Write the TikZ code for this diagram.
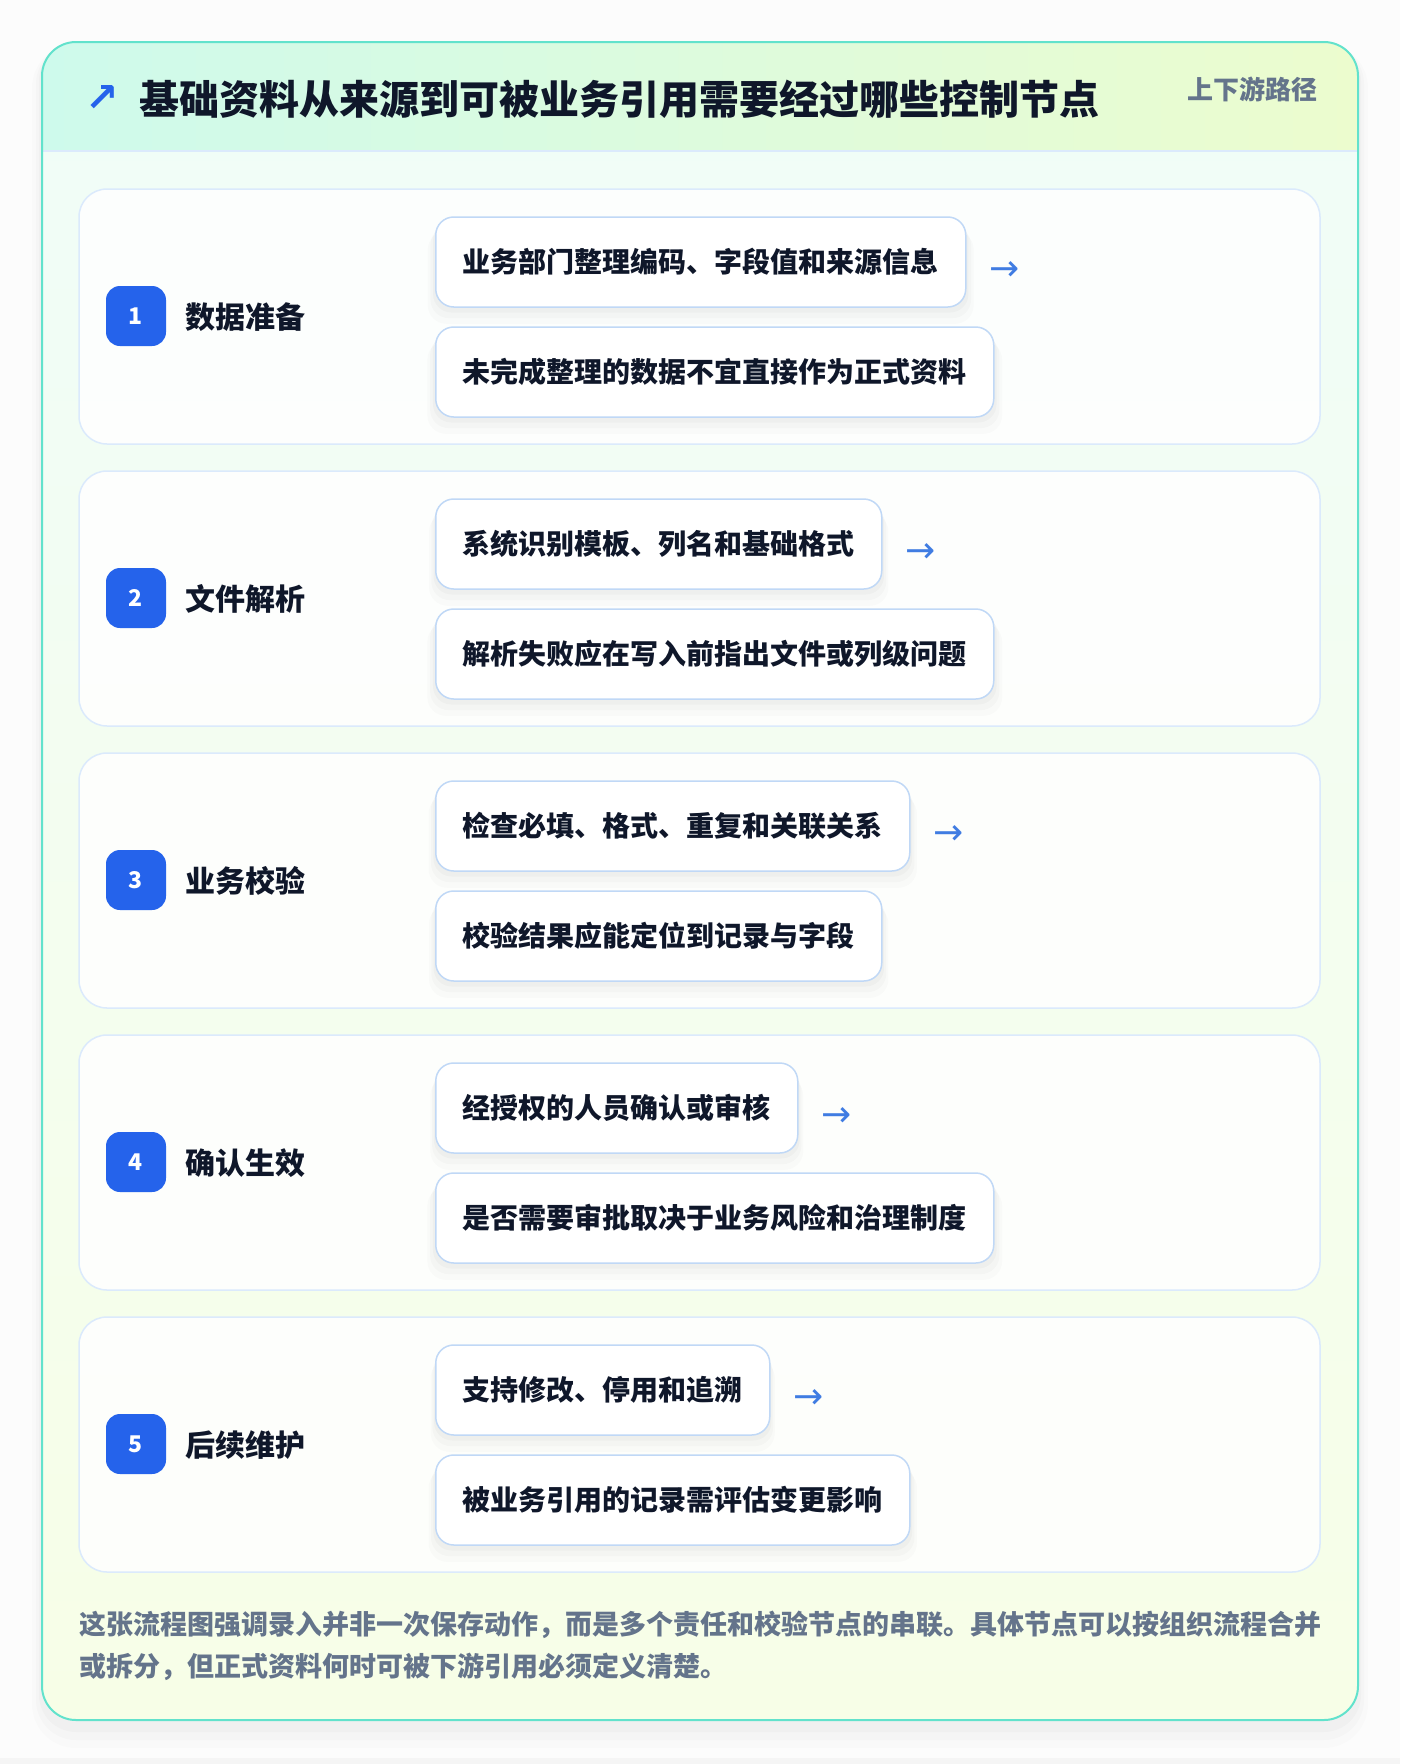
\documentclass[tikz,border=0pt]{standalone}
\usepackage{fontspec}
\setmainfont{Noto Sans CJK SC}
\newfontfamily\symfont{DejaVu Sans}
\usetikzlibrary{positioning,shadows}

\definecolor{inkdark}{RGB}{15,23,42}
\definecolor{inkgray}{RGB}{100,116,139}
\definecolor{badgeblue}{RGB}{37,99,235}
\definecolor{arrowblue}{RGB}{64,124,226}
\definecolor{outerline}{RGB}{98,226,204}
\definecolor{cardline}{RGB}{219,234,252}
\definecolor{boxline}{RGB}{192,216,246}
\definecolor{headleft}{RGB}{206,250,236}
\definecolor{headright}{RGB}{236,252,206}
\definecolor{bodytop}{RGB}{240,253,248}
\definecolor{bodybottom}{RGB}{247,254,231}

\tikzset{
	x=1pt,y=-1pt,
	stagecard/.style={draw=cardline,line width=1.5pt,fill=white,fill opacity=.85,rounded corners=28pt},
	badge/.style={fill=badgeblue,rounded corners=14pt,minimum width=60pt,minimum height=60pt,inner sep=0pt,text=white,font=\fontsize{23}{23}\selectfont\bfseries},
	stagelabel/.style={anchor=west,inner sep=0pt,text=inkdark,font=\fontsize{30}{30}\selectfont\bfseries},
	notebox/.style={anchor=west,draw=boxline,line width=1.5pt,fill=white,rounded corners=18pt,minimum height=90pt,inner xsep=27pt,text=inkdark,font=\fontsize{28}{28}\selectfont\bfseries,
		general shadow={fill=black,opacity=.025,shadow yshift=-5pt,shadow scale=1.01},
		general shadow={fill=black,opacity=.02,shadow yshift=-10pt,shadow scale=1.02},
		general shadow={fill=black,opacity=.015,shadow yshift=-15pt,shadow scale=1.03}},
	nextarrow/.style={anchor=west,inner sep=0pt,text=arrowblue,font=\fontsize{36}{36}\symfont}
}

\begin{document}
\begin{tikzpicture}
\useasboundingbox (0,0) rectangle (1400,1764);
\fill[white!98!gray] (0,0) rectangle (1400,1764);
\fill[white!92!gray] (0,1758) rectangle (1400,1764);

% soft shadow of the outer card
\fill[black,opacity=.012,rounded corners=44pt] (32,44) rectangle (1368,1748);
\fill[black,opacity=.015,rounded corners=40pt] (36,44) rectangle (1364,1740);
\fill[black,opacity=.02,rounded corners=37pt] (39,44) rectangle (1361,1732);

% outer card
\path[rounded corners=34pt,top color=bodytop,bottom color=bodybottom] (42,42) rectangle (1358,1720);
\begin{scope}
	\clip[rounded corners=34pt] (42,42) rectangle (1358,1720);
	\fill[left color=headleft,right color=headright] (42,42) rectangle (1358,151);
	\draw[cardline,line width=2pt] (42,151) -- (1358,151);
\end{scope}
\draw[outerline,line width=2pt,rounded corners=34pt] (42,42) rectangle (1358,1720);

% header
\node[inner sep=0pt,text=badgeblue,font=\fontsize{40}{40}\symfont\bfseries] (icon) at (102,99) {↗};
\node[anchor=west,inner sep=0pt,text=inkdark,font=\fontsize{40}{40}\selectfont\bfseries] (title) at (139,99) {基础资料从来源到可被业务引用需要经过哪些控制节点};
\node[anchor=east,inner sep=0pt,text=inkgray,font=\fontsize{26}{26}\selectfont\bfseries] (tag) at (1318,89) {上下游路径};

% stage 1
\draw[stagecard] (79,189) rectangle (1320,444);
\node[badge] (b1) at (136,316) {1};
\node[stagelabel] (l1) at (185,317) {数据准备};
\node[notebox] (n1a) at (435,262) {业务部门整理编码、字段值和来源信息};
\node[notebox] (n1b) at (435,372) {未完成整理的数据不宜直接作为正式资料};
\node[nextarrow] (a1) at ([xshift=23pt,yshift=-9pt]n1a.east) {→};

% stage 2
\draw[stagecard] (79,471) rectangle (1320,726);
\node[badge] (b2) at (136,598) {2};
\node[stagelabel] (l2) at (185,599) {文件解析};
\node[notebox] (n2a) at (435,544) {系统识别模板、列名和基础格式};
\node[notebox] (n2b) at (435,654) {解析失败应在写入前指出文件或列级问题};
\node[nextarrow] (a2) at ([xshift=23pt,yshift=-9pt]n2a.east) {→};

% stage 3
\draw[stagecard] (79,753) rectangle (1320,1008);
\node[badge] (b3) at (136,880) {3};
\node[stagelabel] (l3) at (185,881) {业务校验};
\node[notebox] (n3a) at (435,826) {检查必填、格式、重复和关联关系};
\node[notebox] (n3b) at (435,936) {校验结果应能定位到记录与字段};
\node[nextarrow] (a3) at ([xshift=23pt,yshift=-9pt]n3a.east) {→};

% stage 4
\draw[stagecard] (79,1035) rectangle (1320,1290);
\node[badge] (b4) at (136,1162) {4};
\node[stagelabel] (l4) at (185,1163) {确认生效};
\node[notebox] (n4a) at (435,1108) {经授权的人员确认或审核};
\node[notebox] (n4b) at (435,1218) {是否需要审批取决于业务风险和治理制度};
\node[nextarrow] (a4) at ([xshift=23pt,yshift=-9pt]n4a.east) {→};

% stage 5
\draw[stagecard] (79,1317) rectangle (1320,1572);
\node[badge] (b5) at (136,1444) {5};
\node[stagelabel] (l5) at (185,1445) {后续维护};
\node[notebox] (n5a) at (435,1390) {支持修改、停用和追溯};
\node[notebox] (n5b) at (435,1500) {被业务引用的记录需评估变更影响};
\node[nextarrow] (a5) at ([xshift=23pt,yshift=-9pt]n5a.east) {→};

% footnote
\node[anchor=base west,inner sep=0pt,align=left,text=inkgray,font=\fontsize{27}{41.5}\selectfont\bfseries] (note) at (79,1676) {这张流程图强调录入并非一次保存动作，而是多个责任和校验节点的串联。具体节点可以按组织流程合并\\或拆分，但正式资料何时可被下游引用必须定义清楚。};
\end{tikzpicture}
\end{document}
